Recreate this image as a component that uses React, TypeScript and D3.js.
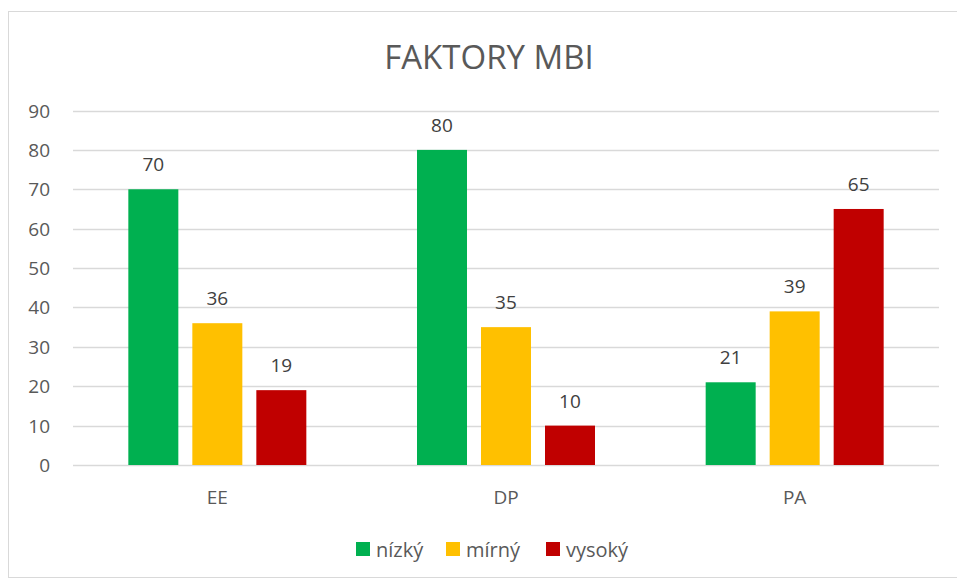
import React from "react";
import * as d3 from "d3";

const categories = ["EE", "DP", "PA"];
const seriesNames = ["nízký", "mírný", "vysoký"];
const nizky = [70, 80, 21];
const mirny = [36, 35, 39];
const vysoky = [19, 10, 65];
const colors = ["#00B050", "#FFC000", "#C00000"];
const yTicks = [0, 10, 20, 30, 40, 50, 60, 70, 80, 90];
const title = "FAKTORY MBI";

export default function App() {
  const W = 957, H = 580;
  const left = 73, right = 939, top = 110.5, bottom = 465;
  const series = [nizky, mirny, vysoky];
  const x0 = d3.scaleBand<string>().domain(categories).range([left, right]).paddingInner(0).paddingOuter(0);
  const bw = x0.bandwidth();
  const groupW = 178;
  const x1 = d3.scaleBand<number>().domain([0, 1, 2]).range([(bw - groupW) / 2, (bw + groupW) / 2]).paddingInner(14 / 64).paddingOuter(0);
  const y = d3.scaleLinear().domain([0, 90]).range([bottom, top]);
  const font = "'Open Sans', 'Noto Sans', sans-serif";
  const legendX = [356, 446, 546];
  return (
    <svg width={W} height={H} style={{ position: "absolute", left: 0, top: 0 }} fontFamily={font}>
      <rect x={0} y={0} width={W} height={H} fill="#fff" />
      <rect x={8.5} y={11.5} width={W} height={566} fill="#fff" stroke="#d9d9d9" />
      <text x={489} y={69} textAnchor="middle" fontSize={33} fill="#595959">{title}</text>
      {yTicks.map((t) => (
        <g key={t}>
          <line x1={left} x2={right} y1={Math.round(y(t)) + 0.5} y2={Math.round(y(t)) + 0.5} stroke="#d9d9d9" strokeWidth={1.3} />
          <text x={50} y={y(t) + 7} textAnchor="end" fontSize={19} fill="#595959">{t}</text>
        </g>
      ))}
      {categories.map((c, ci) => (
        <g key={c} transform={`translate(${x0(c)},0)`}>
          {series.map((s, si) => (
            <g key={si}>
              <rect x={x1(si)} y={y(s[ci])} width={x1.bandwidth()} height={y(0) - y(s[ci])} fill={colors[si]} />
              <text x={(x1(si) as number) + x1.bandwidth() / 2} y={y(s[ci]) - 18} textAnchor="middle" fontSize={19} fill="#404040">{s[ci]}</text>
            </g>
          ))}
          <text x={bw / 2} y={504} textAnchor="middle" fontSize={19} fill="#595959">{c}</text>
        </g>
      ))}
      {seriesNames.map((n, i) => (
        <g key={n}>
          <rect x={legendX[i]} y={542} width={14} height={14} fill={colors[i]} />
          <text x={legendX[i] + 20} y={557} fontSize={20} fill="#595959">{n}</text>
        </g>
      ))}
    </svg>
  );
}
